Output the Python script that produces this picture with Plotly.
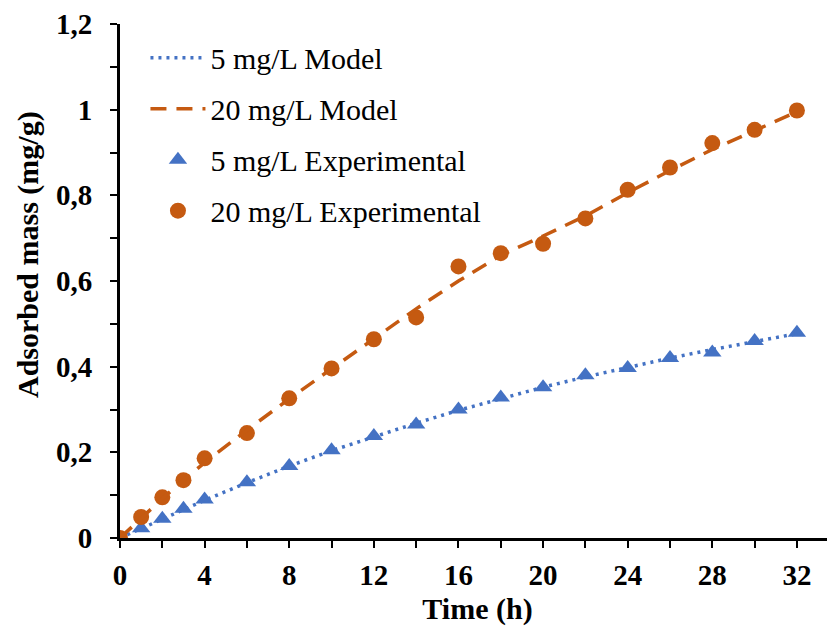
import plotly.graph_objects as go

time_h = [0, 1, 2, 3, 4, 6, 8, 10, 12, 14, 16, 18, 20, 22, 24, 26, 28, 30, 32]

model_5 = [0, 0.022, 0.045, 0.067, 0.088, 0.129, 0.168, 0.204, 0.237, 0.268,
           0.298, 0.326, 0.352, 0.376, 0.399, 0.420, 0.440, 0.459, 0.477]
model_20 = [0, 0.047, 0.092, 0.135, 0.176, 0.252, 0.325, 0.395, 0.465, 0.535,
            0.600, 0.660, 0.705, 0.752, 0.806, 0.858, 0.907, 0.952, 0.995]
exp_5 = [0, 0.023, 0.045, 0.068, 0.090, 0.130, 0.168, 0.205, 0.238, 0.265,
         0.300, 0.328, 0.352, 0.380, 0.397, 0.420, 0.433, 0.460, 0.479]
exp_20 = [0, 0.049, 0.095, 0.135, 0.186, 0.245, 0.326, 0.396, 0.464, 0.515,
          0.634, 0.665, 0.687, 0.746, 0.813, 0.865, 0.922, 0.953, 0.998]

names = ["5 mg/L Model", "20 mg/L Model", "5 mg/L Experimental", "20 mg/L Experimental"]
x_title = "Time (h)"
y_title = "Adsorbed mass (mg/g)"
BLUE = "#4472C4"
ORANGE = "#C55A11"
FONT = "Liberation Serif"

fig = go.Figure()
fig.add_trace(go.Scatter(x=time_h, y=exp_5, mode="markers", name=names[2],
                         marker=dict(symbol="triangle-up", size=16, color=BLUE),
                         legendgroup="c", legendrank=3))
fig.add_trace(go.Scatter(x=time_h, y=exp_20, mode="markers", name=names[3],
                         marker=dict(symbol="circle", size=16, color=ORANGE),
                         legendgroup="d", legendrank=4))
fig.add_trace(go.Scatter(x=time_h, y=model_5, mode="lines", name=names[0],
                         line=dict(color=BLUE, width=3.5, dash="3px,5px"),
                         legendgroup="a", legendrank=1))
fig.add_trace(go.Scatter(x=time_h, y=model_20, mode="lines", name=names[1],
                         line=dict(color=ORANGE, width=3.5, dash="16px,10px"),
                         legendgroup="b", legendrank=2))

axis_common = dict(
    showline=True, linecolor="black", linewidth=3,
    ticks="outside", ticklen=7, tickwidth=2, tickcolor="black",
    showgrid=False, zeroline=False, automargin=False,
    tickfont=dict(family=FONT, size=29, color="black", weight="bold"),
    title_font=dict(family=FONT, size=30, color="black", weight="bold"),
)

fig.update_xaxes(range=[0, 33.8], dtick=4, tick0=0,
                 minor=dict(dtick=2, ticks="outside", ticklen=7, tickwidth=2, tickcolor="black"),
                 title_text="<b>" + x_title + "</b>", title_standoff=9, ticklabelstandoff=2,
                 **axis_common)
fig.update_yaxes(range=[0, 1.2], dtick=0.2, tick0=0,
                 minor=dict(dtick=0.1, ticks="outside", ticklen=7, tickwidth=2, tickcolor="black"),
                 ticklabelstandoff=12,
                 **axis_common)

fig.add_annotation(text="<b>" + y_title + "</b>", textangle=-90,
                   xref="paper", yref="paper", x=-0.1287, y=0.5525,
                   xanchor="center", yanchor="middle", showarrow=False,
                   font=dict(family=FONT, size=30, color="black"))

fig.update_layout(
    width=835, height=633,
    margin=dict(l=112, r=8, t=16, b=103),
    plot_bgcolor="white", paper_bgcolor="white",
    separators=", ",
    legend=dict(x=0.0356, y=0.985, xanchor="left", yanchor="top",
                font=dict(family=FONT, size=30, color="black"),
                bgcolor="rgba(0,0,0,0)", tracegroupgap=9, itemwidth=55),
    showlegend=True,
)

fig.write_html("out.html")
